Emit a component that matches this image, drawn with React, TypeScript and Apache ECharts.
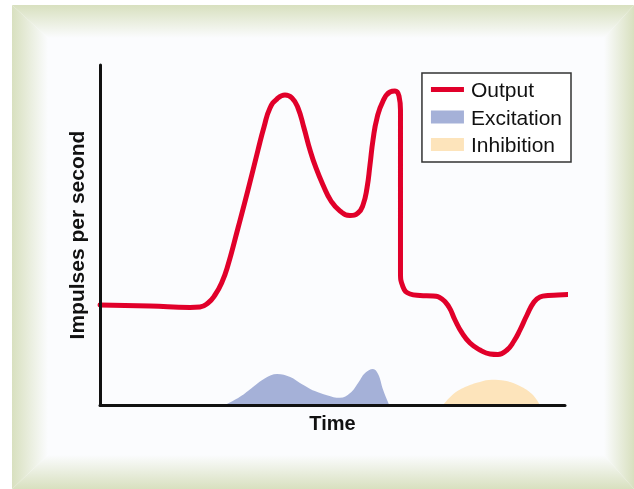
import React, { useEffect, useRef } from "react";
import * as echarts from "echarts";

// Time axis runs 0–100, impulse axis 0–100 (arbitrary units)
const outputTime = [0, 10.75, 19.35, 21.51, 23.23, 24.73, 26.24, 27.53, 29.68, 31.83, 33.98, 35.27, 36.56, 38.06, 39.78, 41.29, 42.58, 43.87, 45.16, 46.45, 47.96, 49.68, 51.61, 53.76, 55.48, 56.56, 57.42, 58.06, 58.71, 59.57, 60.86, 62.37, 63.44, 64.3, 64.62, 64.62, 64.62, 65.16, 66.67, 68.82, 71.61, 73.55, 75.05, 76.34, 77.85, 79.57, 81.72, 83.87, 85.59, 87.53, 89.03, 90.32, 91.83, 93.33, 94.62, 96.34, 98.49, 100.65];
const outputRate = [29.41, 29.12, 28.68, 28.82, 30.0, 32.35, 36.18, 41.18, 52.06, 63.24, 75.0, 81.76, 87.35, 90.0, 91.18, 90.29, 87.35, 81.47, 75.0, 69.71, 64.71, 60.0, 57.06, 55.74, 56.47, 58.82, 63.82, 70.59, 77.94, 84.41, 89.41, 92.06, 92.35, 90.88, 86.76, 60.29, 39.12, 34.71, 32.65, 32.21, 32.06, 31.18, 28.82, 25.0, 21.18, 18.24, 16.18, 15.0, 14.85, 16.18, 18.82, 22.06, 26.47, 30.29, 31.76, 32.21, 32.35, 32.5];

const excitationTime = [26.9, 30.1, 32.9, 35.5, 38.1, 40.9, 43.0, 46.2, 48.8, 51.6, 53.8, 55.5, 57.0, 58.7, 59.8, 60.9, 62.2];
const excitationLevel = [0, 2.4, 5.3, 7.9, 9.1, 8.2, 6.5, 4.1, 2.9, 2.1, 3.5, 6.5, 9.4, 10.6, 9.1, 4.4, 0];

const inhibitionTime = [73.8, 75.7, 78.5, 81.7, 84.3, 87.1, 90.3, 92.9, 94.6];
const inhibitionLevel = [0, 2.9, 5.3, 6.8, 7.4, 7.1, 5.6, 3.2, 0];

const seriesNames = ["Output", "Excitation", "Inhibition"];
const xAxisName = "Time";
const yAxisName = "Impulses per second";

const pair = (xs: number[], ys: number[]) => xs.map((x, i) => [x, ys[i]]);

export default function App() {
  const ref = useRef<HTMLDivElement>(null);
  useEffect(() => {
    if (!ref.current) return;
    const chart = echarts.init(ref.current, null, { renderer: "svg" });
    const green = "#d8e0bf";
    const white = "#fbfcfe";
    const grad = (x: number, y: number, x2: number, y2: number) =>
      new echarts.graphic.LinearGradient(x, y, x2, y2, [
        { offset: 0, color: green },
        { offset: 1, color: white },
      ]);
    chart.setOption({
      animation: false,
      textStyle: { fontFamily: "'Liberation Sans', Arial, sans-serif" },
      graphic: [
        { type: "rect", z: -10, silent: true, shape: { x: 12, y: 5, width: 622, height: 484 }, style: { fill: white } },
        { type: "polygon", z: -9, silent: true, shape: { points: [[12, 5], [634, 5], [604, 38], [48, 38]] }, style: { fill: grad(0, 0, 0, 1) } },
        { type: "polygon", z: -9, silent: true, shape: { points: [[12, 5], [48, 38], [48, 455], [12, 489]] }, style: { fill: grad(0, 0, 1, 0) } },
        { type: "polygon", z: -9, silent: true, shape: { points: [[634, 5], [634, 489], [604, 455], [604, 38]] }, style: { fill: grad(1, 0, 0, 0) } },
        { type: "polygon", z: -9, silent: true, shape: { points: [[12, 489], [48, 455], [604, 455], [634, 489]] }, style: { fill: grad(0, 1, 0, 0) } },
      ],
      legend: {
        right: 63,
        top: 73,
        orient: "vertical",
        padding: [6, 9, 7, 9],
        itemGap: 6.5,
        itemWidth: 33,
        itemHeight: 13,
        borderColor: "#333",
        borderWidth: 1.5,
        borderRadius: 0,
        backgroundColor: "#ffffff",
        textStyle: { fontSize: 21, color: "#111", padding: [0, 0, 0, 2] },
        data: [
          {
            name: seriesNames[0],
            icon: "path://M0,0 L33,0 L33,0 Z M0,4 L33,4 L33,9 L0,9 Z M0,13 L33,13 L33,13 Z",
            itemStyle: { color: "#e1002a", borderWidth: 0 },
          },
          { name: seriesNames[1], icon: "rect" },
          { name: seriesNames[2], icon: "rect" },
        ],
      },
      grid: { left: 100, top: 65, right: 69, bottom: 84, containLabel: false },
      xAxis: {
        type: "value",
        min: 0,
        max: 100,
        z: 5,
        name: xAxisName,
        nameLocation: "middle",
        nameGap: 8,
        nameTextStyle: { fontSize: 20, fontWeight: "bold", color: "#111", verticalAlign: "top" },
        axisLine: { show: true, lineStyle: { color: "#111", width: 3 } },
        axisTick: { show: false },
        axisLabel: { show: false },
        splitLine: { show: false },
      },
      yAxis: {
        type: "value",
        min: 0,
        max: 100,
        z: 5,
        name: yAxisName,
        nameLocation: "middle",
        nameGap: 13,
        nameTextStyle: { fontSize: 21, fontWeight: "bold", color: "#111" },
        axisLine: { show: true, lineStyle: { color: "#111", width: 3 } },
        axisTick: { show: false },
        axisLabel: { show: false },
        splitLine: { show: false },
      },
      series: [
        {
          name: seriesNames[1],
          type: "line",
          data: pair(excitationTime, excitationLevel),
          smooth: 0.4,
          symbol: "none",
          lineStyle: { width: 0 },
          itemStyle: { color: "#a5b1d8" },
          areaStyle: { color: "#a5b1d8", opacity: 1 },
          z: 2,
        },
        {
          name: seriesNames[2],
          type: "line",
          data: pair(inhibitionTime, inhibitionLevel),
          smooth: 0.4,
          symbol: "none",
          lineStyle: { width: 0 },
          itemStyle: { color: "#fde4bb" },
          areaStyle: { color: "#fde4bb", opacity: 1 },
          z: 2,
        },
        {
          name: seriesNames[0],
          type: "line",
          data: pair(outputTime, outputRate),
          smooth: 0.5,
          symbol: "none",
          clip: false,
          lineStyle: { color: "#e1002a", width: 5, cap: "round", join: "round" },
          itemStyle: { color: "#e1002a" },
          z: 3,
        },
      ],
    });
    return () => chart.dispose();
  }, []);
  return (
    <div
      ref={ref}
      style={{ position: "fixed", left: 0, top: 0, width: 634, height: 489 }}
    />
  );
}
